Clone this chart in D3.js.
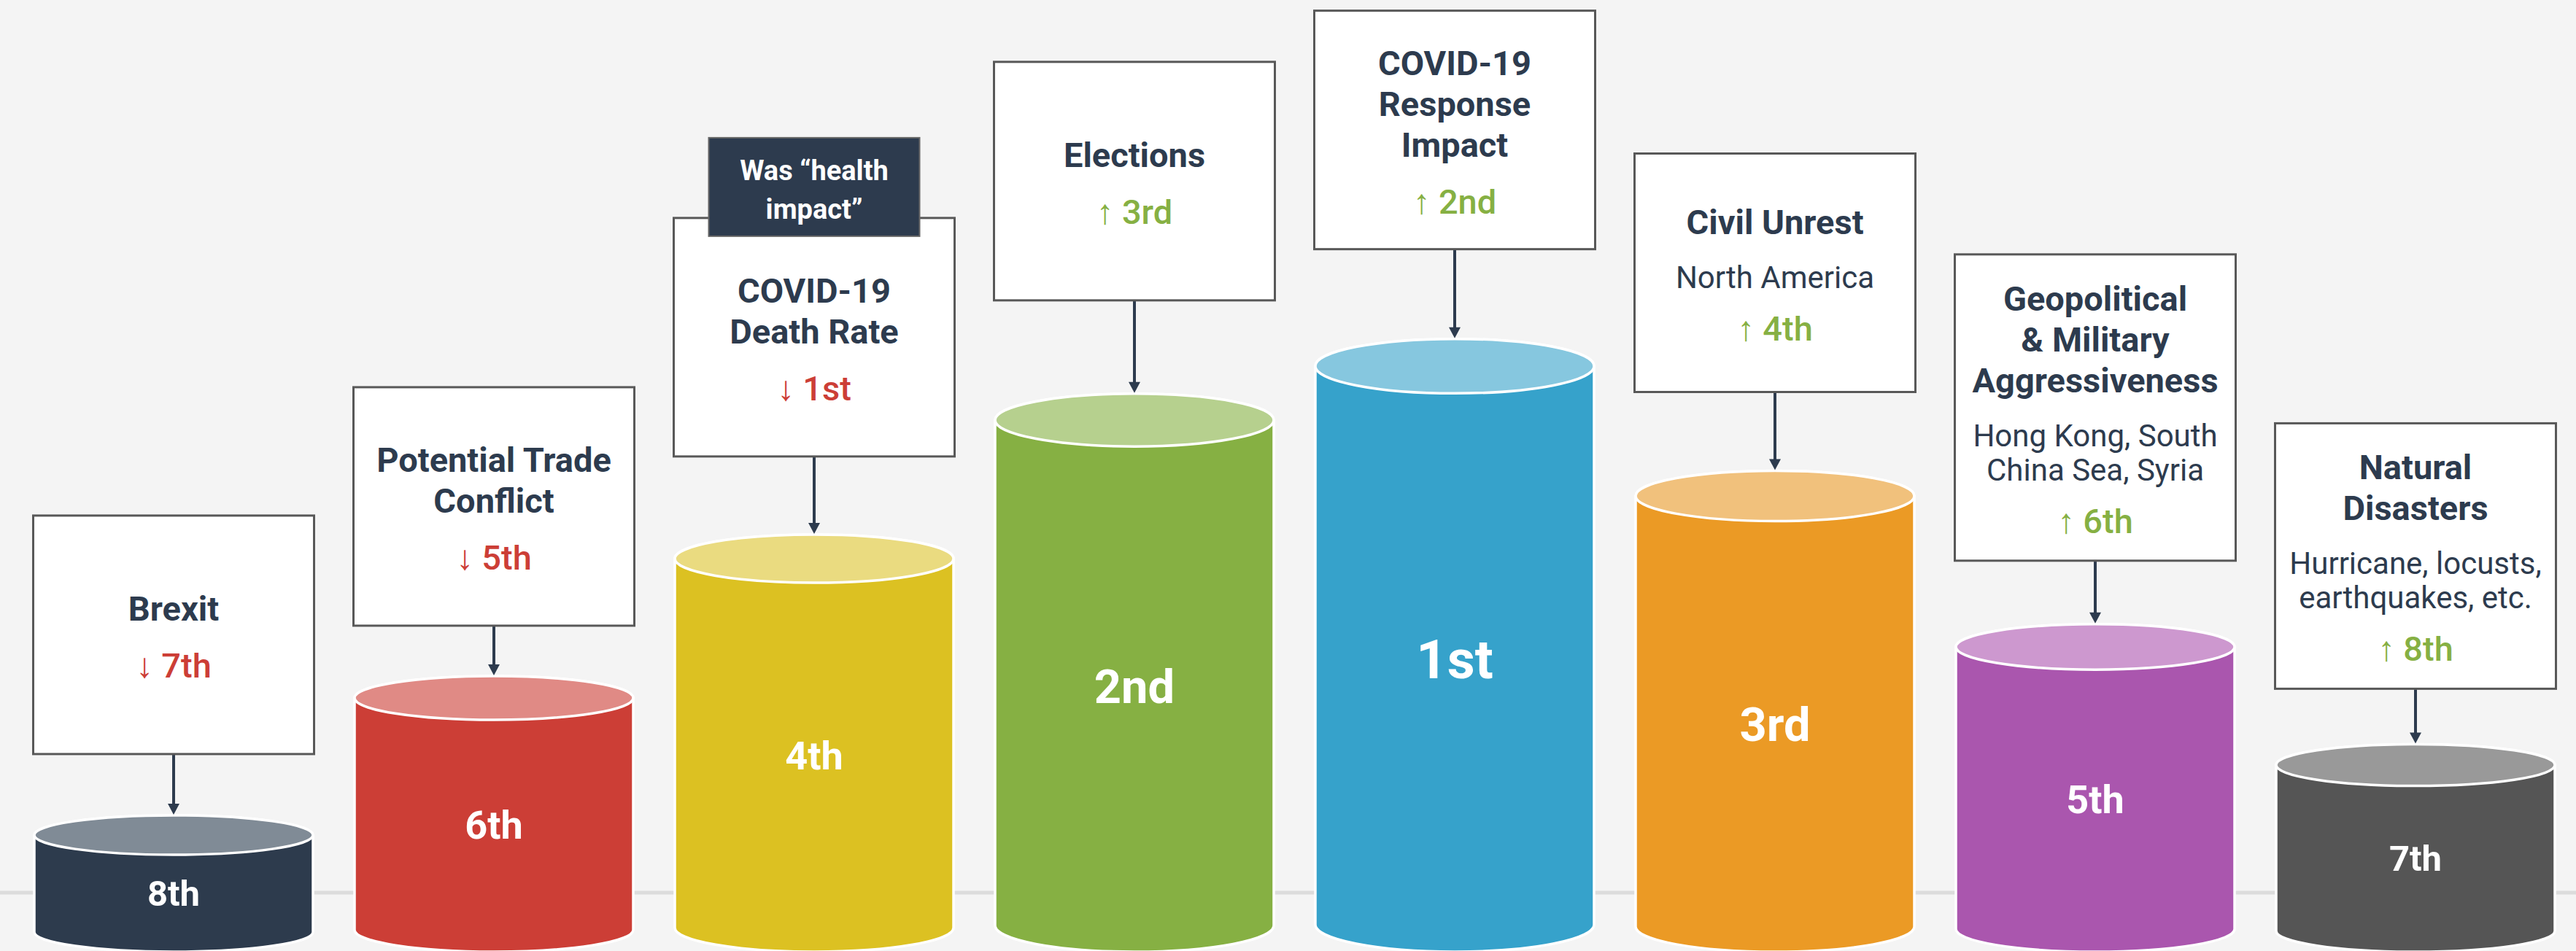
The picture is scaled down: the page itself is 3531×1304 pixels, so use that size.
<!DOCTYPE html>
<html>
<head>
<meta charset="utf-8">
<script src="https://cdnjs.cloudflare.com/ajax/libs/d3/7.8.5/d3.min.js"></script>
<style>
	body { margin: 0; background: #f4f4f4; }
	svg { display: block; font-family: Roboto, "Noto Sans", sans-serif; }
</style>
</head>
<body>
<svg id="chart" width="3531" height="1304"></svg>
<script>
// risk categories, left to right
var risks = [
	["Brexit"],
	["Potential Trade", "Conflict"],
	["COVID-19", "Death Rate"],
	["Elections"],
	["COVID-19", "Response", "Impact"],
	["Civil Unrest"],
	["Geopolitical", "& Military", "Aggressiveness"],
	["Natural", "Disasters"]
];
var details = [
	[], [], [], [],
	[],
	["North America"],
	["Hong Kong, South", "China Sea, Syria"],
	["Hurricane, locusts,", "earthquakes, etc."]
];
// current rank, shown on the cylinder
var currentRank = ["8th", "6th", "4th", "2nd", "1st", "3rd", "5th", "7th"];
// previous rank, shown in the callout
var previousRank = ["7th", "5th", "1st", "3rd", "2nd", "4th", "6th", "8th"];
var movement = ["down", "down", "down", "up", "up", "up", "up", "up"];
// cylinder height (0-100)
var riskScore = [16.0, 34.8, 53.9, 72.9, 80.3, 62.5, 41.8, 25.6];
var notes = ["", "", "Was \u201chealth|impact\u201d", "", "", "", "", ""];

// styles / layout
var bodyColors = ["#2d3b4d", "#cc3e36", "#dcc122", "#86b043", "#36a2cb", "#eb9a25", "#aa56ae", "#555555"];
var topColors = ["#808b96", "#e08a85", "#eadb80", "#b6d08e", "#86c7df", "#f1c17c", "#cd98cf", "#999999"];
var labelSizeByRank = {"1st": 74, "2nd": 65, "3rd": 65, "4th": 54, "5th": 54, "6th": 54, "7th": 49, "8th": 49};
var arrowLength = [84, 69, 107, 128, 123, 108, 87, 76];

var width = 3531, height = 1304, baseY = 1305,
	navy = "#2d3b4e";

var svg = d3.select("#chart");
var idx = d3.range(riskScore.length);

var x = d3.scaleBand()
	.domain(idx)
	.range([18.5, 3530.5])
	.paddingInner(57 / 439)
	.paddingOuter(57 / 878);

var y = d3.scaleLinear().domain([0, 100]).range([baseY, 305]);

function ry(i) {
	return 24.5 + 0.016 * (baseY - y(riskScore[i]));
}

// baseline grid
svg.append("line")
	.attr("x1", 0).attr("x2", width)
	.attr("y1", 1224).attr("y2", 1224)
	.attr("stroke", "#dcdcdc")
	.attr("stroke-width", 5);

var cyl = svg.selectAll("g.cyl")
	.data(idx)
	.enter()
	.append("g")
	.attr("class", "cyl");

cyl.append("path")
	.attr("fill", function (i) { return bodyColors[i]; })
	.attr("stroke", "#fff")
	.attr("stroke-width", 3.5)
	.attr("d", function (i) {
		var l = x(i), r = x(i) + x.bandwidth(), rx = x.bandwidth() / 2,
			e = ry(i), top = y(riskScore[i]), bot = baseY - e;
		return "M" + l + "," + top + "L" + l + "," + bot +
			"A" + rx + "," + e + " 0 0 0 " + r + "," + bot +
			"L" + r + "," + top +
			"A" + rx + "," + e + " 0 0 0 " + l + "," + top + "Z";
	});

cyl.append("ellipse")
	.attr("cx", function (i) { return x(i) + x.bandwidth() / 2; })
	.attr("cy", function (i) { return y(riskScore[i]); })
	.attr("rx", x.bandwidth() / 2)
	.attr("ry", function (i) { return ry(i); })
	.attr("fill", function (i) { return topColors[i]; })
	.attr("stroke", "#fff")
	.attr("stroke-width", 3.5);

cyl.append("text")
	.attr("x", function (i) { return x(i) + x.bandwidth() / 2; })
	.attr("y", function (i) {
		var fs = labelSizeByRank[currentRank[i]];
		return (y(riskScore[i]) + baseY) / 2 + 0.711 * fs / 2;
	})
	.attr("text-anchor", "middle")
	.attr("fill", "#fff")
	.attr("font-weight", 700)
	.attr("font-size", function (i) { return labelSizeByRank[currentRank[i]]; })
	.text(function (i) { return currentRank[i]; });

// callout boxes
idx.forEach(function (i) {
	var cx = x(i) + x.bandwidth() / 2,
		cylTop = y(riskScore[i]) - ry(i),
		lines = [], b = 0, prev = null;

	risks[i].forEach(function (t) {
		if (prev) b += 56;
		lines.push({text: t, kind: "title", b: b});
		prev = "title";
	});
	details[i].forEach(function (t) {
		b += prev === "title" ? 74 : 47;
		lines.push({text: t, kind: "detail", b: b});
		prev = "detail";
	});
	b += prev === "title" ? 78 : 72;
	lines.push({text: (movement[i] === "up" ? "\u2191 " : "\u2193 ") + previousRank[i], kind: "rank", b: b});

	var blockH = b + 33,
		boxH = Math.max(327, blockH + 82),
		boxW = 385,
		boxBottom = cylTop - arrowLength[i],
		boxTop = boxBottom - boxH,
		first = boxTop + boxH / 2 - blockH / 2 + 36;

	var g = svg.append("g");

	g.append("line")
		.attr("x1", cx).attr("x2", cx)
		.attr("y1", boxBottom).attr("y2", cylTop - 12)
		.attr("stroke", navy)
		.attr("stroke-width", 4);
	g.append("path")
		.attr("fill", navy)
		.attr("d", "M" + (cx - 8) + "," + (cylTop - 16) + "L" + (cx + 8) + "," + (cylTop - 16) + "L" + cx + "," + (cylTop - 1) + "Z");

	g.append("rect")
		.attr("x", cx - boxW / 2).attr("y", boxTop)
		.attr("width", boxW).attr("height", boxH)
		.attr("fill", "#fff")
		.attr("stroke", "#585858")
		.attr("stroke-width", 3);

	g.selectAll("text.line")
		.data(lines)
		.enter()
		.append("text")
		.attr("class", "line")
		.attr("x", cx)
		.attr("y", function (d) { return first + d.b; })
		.attr("text-anchor", "middle")
		.attr("font-size", function (d) { return d.kind === "detail" ? 42 : 47; })
		.attr("font-weight", function (d) { return d.kind === "title" ? 700 : d.kind === "rank" ? 500 : 400; })
		.attr("fill", function (d) {
			if (d.kind !== "rank") return navy;
			return movement[i] === "up" ? "#86b043" : "#cc3e36";
		})
		.text(function (d) { return d.text; });

	if (notes[i]) {
		var tagTop = boxTop - 110;
		g.append("rect")
			.attr("x", cx - 144.5).attr("y", tagTop)
			.attr("width", 289).attr("height", 135)
			.attr("fill", navy)
			.attr("stroke", "#666")
			.attr("stroke-width", 2);
		g.selectAll("text.note")
			.data(notes[i].split("|"))
			.enter()
			.append("text")
			.attr("class", "note")
			.attr("x", cx)
			.attr("y", function (d, k) { return tagTop + 58 + k * 53; })
			.attr("text-anchor", "middle")
			.attr("font-size", 38)
			.attr("font-weight", 700)
			.attr("fill", "#fff")
			.text(function (d) { return d; });
	}
});
</script>
</body>
</html>
